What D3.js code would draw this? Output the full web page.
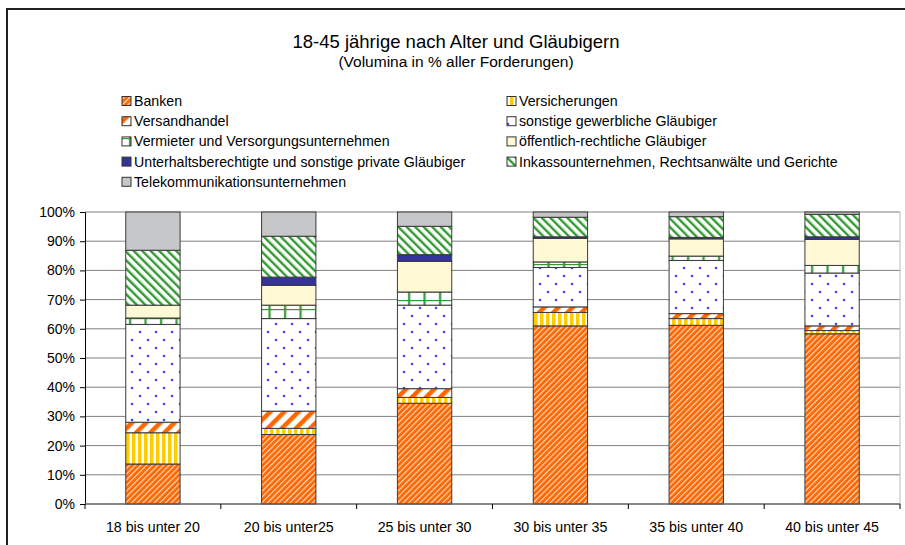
<!DOCTYPE html>
<html>
<head>
<meta charset="utf-8">
<script src="https://cdn.jsdelivr.net/npm/d3@7"></script>
<style>
  body { margin: 0; background: #fff; }
  text { font-family: "Liberation Sans", Arial, sans-serif; fill: #000; }
</style>
</head>
<body>
<svg id="chart" width="905" height="545"></svg>
<script>
// age groups
const categories = ["18 bis unter 20", "20 bis unter25", "25 bis unter 30",
  "30 bis unter 35", "35 bis unter 40", "40 bis unter 45"];

const seriesNames = ["Banken", "Versicherungen", "Versandhandel",
  "sonstige gewerbliche Gläubiger", "Vermieter und Versorgungsunternehmen",
  "öffentlich-rechtliche Gläubiger", "Unterhaltsberechtigte und sonstige private Gläubiger",
  "Inkassounternehmen, Rechtsanwälte und Gerichte", "Telekommunikationsunternehmen"];

// values per series, one per age group (percent)
const banken        = [13.7, 23.8, 34.5, 61.0, 61.2, 58.3];
const versicherung  = [10.7,  2.1,  2.0,  4.6,  2.3,  1.1];
const versandhandel = [ 3.6,  5.9,  3.0,  1.9,  1.7,  1.6];
const sonstigeGew   = [33.5, 31.7, 28.6, 13.5, 18.2, 18.1];
const vermieter     = [ 2.2,  4.6,  4.5,  1.9,  1.5,  2.6];
const oeffentlich   = [ 4.4,  6.8, 10.5,  8.1,  5.9,  8.9];
const unterhalt     = [ 0.0,  2.8,  2.3,  0.5,  0.5,  0.9];
const inkasso       = [18.8, 14.0,  9.7,  6.7,  7.1,  7.7];
const telekom       = [13.1,  8.3,  4.9,  1.8,  1.6,  0.8];

const yTicks = [0, 10, 20, 30, 40, 50, 60, 70, 80, 90, 100];

const seriesValues = [banken, versicherung, versandhandel, sonstigeGew, vermieter,
  oeffentlich, unterhalt, inkasso, telekom];

const svg = d3.select("#chart");

// frame
svg.append("rect")
  .attr("x", 7).attr("y", 9)
  .attr("width", 910).attr("height", 560)
  .attr("fill", "none").attr("stroke", "#231f20").attr("stroke-width", 2);

// ---- fill patterns ----
const defs = svg.append("defs");

function stripes(id, size, bg, fg, fgWidth, angle) {
  const p = defs.append("pattern")
    .attr("id", id).attr("patternUnits", "userSpaceOnUse")
    .attr("width", size).attr("height", size)
    .attr("patternTransform", `rotate(${angle})`);
  p.append("rect").attr("width", size).attr("height", size).attr("fill", bg);
  p.append("rect").attr("width", fgWidth).attr("height", size).attr("fill", fg);
}

stripes("p0", 4, "#ff6600", "#ffd9bf", 1.2, 45);    // Banken
stripes("p1", 6, "#ffffff", "#ffcc00", 3.5, 0);     // Versicherungen
stripes("p2", 10, "#ffffff", "#ff6600", 4.5, 45);   // Versandhandel
stripes("p7", 6, "#ffffff", "#339933", 2.4, -45);   // Inkasso

// sonstige gewerbliche: blue dots
const dots = defs.append("pattern")
  .attr("id", "p3").attr("patternUnits", "userSpaceOnUse")
  .attr("width", 16).attr("height", 16);
dots.append("rect").attr("width", 16).attr("height", 16).attr("fill", "#fff");
dots.append("circle").attr("cx", 4).attr("cy", 4).attr("r", 1.3).attr("fill", "#4444ff");
dots.append("circle").attr("cx", 12).attr("cy", 12).attr("r", 1.3).attr("fill", "#4444ff");

// Vermieter: green grid
const grid = defs.append("pattern")
  .attr("id", "p4").attr("patternUnits", "userSpaceOnUse")
  .attr("width", 15.5).attr("height", 9);
grid.append("rect").attr("width", 15.5).attr("height", 9).attr("fill", "#fff");
grid.append("rect").attr("x", 5).attr("width", 2.2).attr("height", 9).attr("fill", "#339933");
grid.append("rect").attr("y", 3).attr("width", 15.5).attr("height", 1.2).attr("fill", "#339933");

const fills = ["url(#p0)", "url(#p1)", "url(#p2)", "url(#p3)", "url(#p4)",
  "#fff8d5", "#333399", "url(#p7)", "#c6c7c9"];

// ---- title ----
svg.append("text")
  .attr("x", 456).attr("y", 48)
  .attr("text-anchor", "middle")
  .style("font-size", "18.5px")
  .text("18-45 jährige nach Alter und Gläubigern");
svg.append("text")
  .attr("x", 456).attr("y", 67)
  .attr("text-anchor", "middle")
  .style("font-size", "15.5px")
  .text("(Volumina in % aller Forderungen)");

// ---- legend ----
const legend = svg.append("g");
seriesNames.forEach((name, i) => {
  const col = i % 2, row = Math.floor(i / 2);
  const lx = col === 0 ? 122 : 507;
  const ly = 101 + row * 20.2;
  legend.append("rect")
    .attr("x", lx).attr("y", ly - 4.5)
    .attr("width", 9).attr("height", 9)
    .attr("fill", fills[i]).attr("stroke", "#333").attr("stroke-width", 1);
  legend.append("text")
    .attr("x", lx + 12).attr("y", ly + 5)
    .style("font-size", "14.2px")
    .text(name);
});

// ---- scales ----
const margin = { top: 212, left: 85, right: 5, bottom: 41 };
const width = 905 - margin.left - margin.right,
  height = 545 - margin.top - margin.bottom;

const x = d3.scaleBand()
  .domain(categories)
  .range([margin.left, margin.left + width])
  .paddingInner(0.6)
  .paddingOuter(0.3);

const y = d3.scaleLinear()
  .domain([0, 100])
  .range([margin.top + height, margin.top]);

// gridlines
svg.append("g")
  .selectAll("line")
  .data(yTicks.slice(1))
  .enter().append("line")
  .attr("x1", margin.left).attr("x2", margin.left + width)
  .attr("y1", d => y(d)).attr("y2", d => y(d))
  .attr("stroke", "#808080").attr("stroke-width", 1);

// right border of plot area
svg.append("line")
  .attr("x1", margin.left + width).attr("x2", margin.left + width)
  .attr("y1", y(100)).attr("y2", y(0))
  .attr("stroke", "#bbb");

// ---- stacked bars ----
const table = categories.map((c, j) => {
  const row = { cat: c };
  seriesNames.forEach((s, i) => { row[s] = seriesValues[i][j]; });
  return row;
});
const stacked = d3.stack().keys(seriesNames)(table);

svg.append("g")
  .selectAll("g")
  .data(stacked)
  .enter().append("g")
  .attr("fill", (d, i) => fills[i])
  .selectAll("rect")
  .data(d => d.filter(v => v[1] - v[0] > 0))
  .enter().append("rect")
  .attr("x", d => x(d.data.cat))
  .attr("width", x.bandwidth())
  .attr("y", d => y(d[1]))
  .attr("height", d => y(d[0]) - y(d[1]))
  .attr("stroke", "#3a3a3a")
  .attr("stroke-width", 1);

// ---- axes ----
const yAxis = d3.axisLeft(y)
  .tickValues(yTicks)
  .tickSize(5)
  .tickFormat(d => d + "%");
const gy = svg.append("g")
  .attr("transform", `translate(${margin.left},0)`)
  .call(yAxis);
gy.select(".domain").attr("stroke", "#000");
gy.selectAll("text").style("font-size", "14px").attr("x", -10);

// category boundary ticks
const step = x.step();
const bounds = d3.range(categories.length + 1).map(i => margin.left + i * step);
svg.append("line")
  .attr("x1", margin.left).attr("x2", margin.left + width)
  .attr("y1", y(0)).attr("y2", y(0))
  .attr("stroke", "#606060").attr("stroke-width", 1.5);
svg.append("g")
  .selectAll("line")
  .data(bounds)
  .enter().append("line")
  .attr("x1", d => d).attr("x2", d => d)
  .attr("y1", y(0)).attr("y2", y(0) + 5)
  .attr("stroke", "#000");

svg.append("g")
  .selectAll("text")
  .data(categories)
  .enter().append("text")
  .attr("x", d => x(d) + x.bandwidth() / 2)
  .attr("y", y(0) + 28)
  .attr("text-anchor", "middle")
  .style("font-size", "14.2px")
  .text(d => d);
</script>
</body>
</html>
